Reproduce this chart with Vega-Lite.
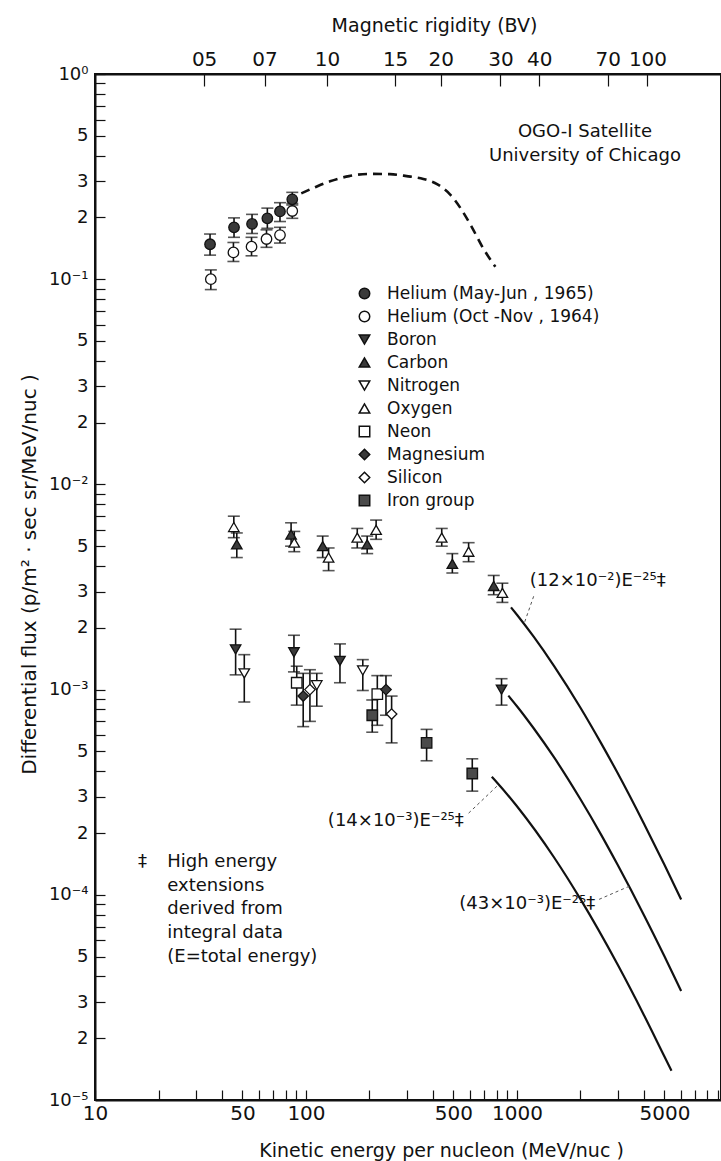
{
  "$schema": "https://vega.github.io/schema/vega-lite/v6.json",
  "width": 626,
  "height": 1026,
  "autosize": "none",
  "padding": {"left": 95, "top": 74, "right": 0, "bottom": 61},
  "background": "white",
  "config": {
    "font": "DejaVu Sans",
    "view": {"stroke": "#111", "strokeWidth": 2},
    "axis": {
      "grid": false,
      "domainColor": "#111",
      "domainWidth": 2,
      "tickColor": "#111",
      "tickWidth": 1.2,
      "labelColor": "#111",
      "titleColor": "#111",
      "labelFont": "DejaVu Sans",
      "titleFont": "DejaVu Sans",
      "titleFontWeight": "normal",
      "labelFontSize": 18,
      "titleFontSize": 18
    },
    "legend": {
      "labelFont": "DejaVu Sans",
      "labelFontSize": 17,
      "labelColor": "#111",
      "labelLimit": 400,
      "symbolSize": 110,
      "rowPadding": 5,
      "labelOffset": 14,
      "padding": 0
    },
    "text": {"font": "DejaVu Sans", "color": "#111", "fontSize": 18}
  },
  "datasets": {
    "points": [
      {"species": "Helium (May-Jun , 1965)", "E": 35.1, "flux": 0.148, "lo": 0.131, "hi": 0.166},
      {"species": "Helium (May-Jun , 1965)", "E": 45.6, "flux": 0.179, "lo": 0.160, "hi": 0.199},
      {"species": "Helium (May-Jun , 1965)", "E": 55.5, "flux": 0.186, "lo": 0.167, "hi": 0.207},
      {"species": "Helium (May-Jun , 1965)", "E": 65.6, "flux": 0.198, "lo": 0.177, "hi": 0.222},
      {"species": "Helium (May-Jun , 1965)", "E": 75.3, "flux": 0.214, "lo": 0.191, "hi": 0.236},
      {"species": "Helium (May-Jun , 1965)", "E": 86.1, "flux": 0.245, "lo": 0.230, "hi": 0.265},
      {"species": "Helium (Oct -Nov , 1964)", "E": 35.4, "flux": 0.100, "lo": 0.089, "hi": 0.111},
      {"species": "Helium (Oct -Nov , 1964)", "E": 45.3, "flux": 0.135, "lo": 0.122, "hi": 0.151},
      {"species": "Helium (Oct -Nov , 1964)", "E": 55.2, "flux": 0.144, "lo": 0.130, "hi": 0.160},
      {"species": "Helium (Oct -Nov , 1964)", "E": 65.0, "flux": 0.157, "lo": 0.143, "hi": 0.174},
      {"species": "Helium (Oct -Nov , 1964)", "E": 75.3, "flux": 0.164, "lo": 0.150, "hi": 0.179},
      {"species": "Helium (Oct -Nov , 1964)", "E": 86.1, "flux": 0.215, "lo": 0.198, "hi": 0.234},
      {"species": "Boron", "E": 46.4, "flux": 0.00157, "lo": 0.00118, "hi": 0.00197},
      {"species": "Boron", "E": 87.7, "flux": 0.00152, "lo": 0.00122, "hi": 0.00184},
      {"species": "Boron", "E": 144.9, "flux": 0.00138, "lo": 0.00108, "hi": 0.00167},
      {"species": "Boron", "E": 845, "flux": 0.00100, "lo": 0.00084, "hi": 0.00113},
      {"species": "Carbon", "E": 47, "flux": 0.0051, "lo": 0.0044, "hi": 0.0058},
      {"species": "Carbon", "E": 85, "flux": 0.0057, "lo": 0.0050, "hi": 0.0065},
      {"species": "Carbon", "E": 120, "flux": 0.0050, "lo": 0.0044, "hi": 0.0056},
      {"species": "Carbon", "E": 195, "flux": 0.0051, "lo": 0.0046, "hi": 0.0056},
      {"species": "Carbon", "E": 494, "flux": 0.0041, "lo": 0.0037, "hi": 0.0046},
      {"species": "Carbon", "E": 776, "flux": 0.0032, "lo": 0.0029, "hi": 0.0036},
      {"species": "Nitrogen", "E": 51.0, "flux": 0.00120, "lo": 0.00087, "hi": 0.00148},
      {"species": "Nitrogen", "E": 112.5, "flux": 0.00105, "lo": 0.00083, "hi": 0.00120},
      {"species": "Nitrogen", "E": 185.9, "flux": 0.00124, "lo": 0.00099, "hi": 0.00140},
      {"species": "Oxygen", "E": 45.5, "flux": 0.0062, "lo": 0.0055, "hi": 0.0070},
      {"species": "Oxygen", "E": 88, "flux": 0.0052, "lo": 0.0047, "hi": 0.0059},
      {"species": "Oxygen", "E": 128, "flux": 0.0044, "lo": 0.0038, "hi": 0.0049},
      {"species": "Oxygen", "E": 175, "flux": 0.0055, "lo": 0.0049, "hi": 0.0061},
      {"species": "Oxygen", "E": 215, "flux": 0.0060, "lo": 0.0054, "hi": 0.0067},
      {"species": "Oxygen", "E": 440, "flux": 0.0055, "lo": 0.0050, "hi": 0.0061},
      {"species": "Oxygen", "E": 590, "flux": 0.0047, "lo": 0.0042, "hi": 0.0052},
      {"species": "Oxygen", "E": 853, "flux": 0.00296, "lo": 0.00266, "hi": 0.0033},
      {"species": "Neon", "E": 90.4, "flux": 0.00108, "lo": 0.00084, "hi": 0.00130},
      {"species": "Neon", "E": 217.8, "flux": 0.00095, "lo": 0.00067, "hi": 0.00117},
      {"species": "Magnesium", "E": 97.0, "flux": 0.00093, "lo": 0.00066, "hi": 0.00120},
      {"species": "Magnesium", "E": 239.4, "flux": 0.00100, "lo": 0.00075, "hi": 0.00117},
      {"species": "Silicon", "E": 104.4, "flux": 0.00100, "lo": 0.00070, "hi": 0.00125},
      {"species": "Silicon", "E": 254.6, "flux": 0.00076, "lo": 0.00055, "hi": 0.00093},
      {"species": "Iron group", "E": 206.1, "flux": 0.00075, "lo": 0.00062, "hi": 0.00089},
      {"species": "Iron group", "E": 373, "flux": 0.00055, "lo": 0.00045, "hi": 0.00064},
      {"species": "Iron group", "E": 614, "flux": 0.00039, "lo": 0.00032, "hi": 0.00046}
    ],
    "heliumCurve": [
      {"E": 95, "flux": 0.262},
      {"E": 110, "flux": 0.28},
      {"E": 130, "flux": 0.30},
      {"E": 160, "flux": 0.318},
      {"E": 200, "flux": 0.326},
      {"E": 250, "flux": 0.325},
      {"E": 300, "flux": 0.318},
      {"E": 360, "flux": 0.308},
      {"E": 420, "flux": 0.29},
      {"E": 480, "flux": 0.26},
      {"E": 540, "flux": 0.222},
      {"E": 610, "flux": 0.18},
      {"E": 690, "flux": 0.142},
      {"E": 790, "flux": 0.115}
    ],
    "extensions": [
      {"curve": "C+O", "E": 937, "flux": 0.002517},
      {"curve": "C+O", "E": 1000, "flux": 0.002316},
      {"curve": "C+O", "E": 1200, "flux": 0.001810},
      {"curve": "C+O", "E": 1500, "flux": 0.001302},
      {"curve": "C+O", "E": 2000, "flux": 0.000816},
      {"curve": "C+O", "E": 2500, "flux": 0.000550},
      {"curve": "C+O", "E": 3000, "flux": 0.000392},
      {"curve": "C+O", "E": 4000, "flux": 0.000222},
      {"curve": "C+O", "E": 5000, "flux": 0.000140},
      {"curve": "C+O", "E": 6000, "flux": 0.0000949},
      {"curve": "LiBeB+N", "E": 910, "flux": 0.000935},
      {"curve": "LiBeB+N", "E": 1000, "flux": 0.000830},
      {"curve": "LiBeB+N", "E": 1200, "flux": 0.000648},
      {"curve": "LiBeB+N", "E": 1500, "flux": 0.000467},
      {"curve": "LiBeB+N", "E": 2000, "flux": 0.000292},
      {"curve": "LiBeB+N", "E": 2500, "flux": 0.000197},
      {"curve": "LiBeB+N", "E": 3000, "flux": 0.000140},
      {"curve": "LiBeB+N", "E": 4000, "flux": 0.0000796},
      {"curve": "LiBeB+N", "E": 5000, "flux": 0.0000502},
      {"curve": "LiBeB+N", "E": 6000, "flux": 0.0000340},
      {"curve": "Fe", "E": 760, "flux": 0.000376},
      {"curve": "Fe", "E": 800, "flux": 0.000355},
      {"curve": "Fe", "E": 1000, "flux": 0.000270},
      {"curve": "Fe", "E": 1500, "flux": 0.000152},
      {"curve": "Fe", "E": 2000, "flux": 0.0000952},
      {"curve": "Fe", "E": 3000, "flux": 0.0000457},
      {"curve": "Fe", "E": 4000, "flux": 0.0000259},
      {"curve": "Fe", "E": 5000, "flux": 0.0000163},
      {"curve": "Fe", "E": 5400, "flux": 0.0000139}
    ],
    "leaders": [
      {"E": 1200, "flux": 0.00285, "E2": 1080, "flux2": 0.00209},
      {"E": 590, "flux": 0.000250, "E2": 820, "flux2": 0.000345},
      {"E": 2450, "flux": 0.0000950, "E2": 3400, "flux2": 0.000110}
    ],
    "notesCenter": [
      {"E": 2100, "flux": 0.52, "text": "OGO-I Satellite"},
      {"E": 2100, "flux": 0.40, "text": "University of Chicago"}
    ],
    "notesLeft": [
      {"E": 1150, "flux": 0.0034, "text": "(12×10⁻²)E⁻²⁵‡"},
      {"E": 16, "flux": 0.000145, "text": "‡"},
      {"E": 22, "flux": 0.000145, "text": "High energy"},
      {"E": 22, "flux": 0.000110, "text": "extensions"},
      {"E": 22, "flux": 0.000085, "text": "derived from"},
      {"E": 22, "flux": 0.000065, "text": "integral data"},
      {"E": 22, "flux": 0.000050, "text": "(E=total energy)"}
    ],
    "notesRight": [
      {"E": 560, "flux": 0.00023, "text": "(14×10⁻³)E⁻²⁵‡"},
      {"E": 2350, "flux": 0.00009, "text": "(43×10⁻³)E⁻²⁵‡"}
    ]
  },
  "resolve": {"axis": {"x": "independent"}},
  "layer": [
    {
      "data": {"name": "extensions"},
      "mark": {"type": "line", "color": "#111", "strokeWidth": 2.2, "interpolate": "monotone"},
      "encoding": {
        "x": {
          "field": "E", "type": "quantitative",
          "scale": {"type": "log", "domain": [10, 9270], "nice": false},
          "axis": {
            "orient": "bottom",
            "values": [10, 20, 30, 40, 50, 60, 70, 80, 90, 100, 200, 300, 400, 500, 600, 700, 800, 900, 1000, 2000, 3000, 4000, 5000, 6000, 7000, 8000, 9000],
            "labelExpr": "indexof([10, 50, 100, 500, 1000, 5000], datum.value) >= 0 ? datum.value + '' : ''",
            "tickSize": -10,
            "labelPadding": 13,
            "labelFontSize": 20,
            "labelFlush": false,
            "labelOverlap": false,
            "title": "Kinetic  energy  per  nucleon  (MeV/nuc )",
            "titleFontSize": 19,
            "titleX": 346,
            "titleY": 50,
            "titleBaseline": "middle"
          }
        },
        "y": {
          "field": "flux", "type": "quantitative",
          "title": "Differential  flux  (p/m² · sec sr/MeV/nuc )",
          "scale": {"type": "log", "domain": [0.00001, 1], "nice": false},
          "axis": {
            "values": [0.00001, 0.00002, 0.00003, 0.00004, 0.00005, 0.00006, 0.00007, 0.00008, 0.00009, 0.0001, 0.0002, 0.0003, 0.0004, 0.0005, 0.0006, 0.0007, 0.0008, 0.0009, 0.001, 0.002, 0.003, 0.004, 0.005, 0.006, 0.007, 0.008, 0.009, 0.01, 0.02, 0.03, 0.04, 0.05, 0.06, 0.07, 0.08, 0.09, 0.1, 0.2, 0.3, 0.4, 0.5, 0.6, 0.7, 0.8, 0.9, 1],
            "labelExpr": "datum.value == 1 ? '10⁰' : datum.value == 0.1 ? '10⁻¹' : datum.value == 0.01 ? '10⁻²' : datum.value == 0.001 ? '10⁻³' : datum.value == 0.0001 ? '10⁻⁴' : datum.value == 0.00001 ? '10⁻⁵' : indexof([2, 3, 5], round(datum.value / pow(10, floor(log(datum.value) / LN10 + 1e-9)))) >= 0 ? round(datum.value / pow(10, floor(log(datum.value) / LN10 + 1e-9))) + '' : ''",
            "tickSize": -10,
            "labelPadding": 17,
            "labelFontSize": 18,
            "labelFlush": false,
            "labelOverlap": false,
            "titleFontSize": 20,
            "titleX": -66,
            "titleY": 500,
            "titleBaseline": "middle"
          }
        },
        "detail": {"field": "curve"}
      }
    },
    {
      "data": {"name": "heliumCurve"},
      "mark": {"type": "line", "color": "#111", "strokeWidth": 2.6, "strokeDash": [9, 6], "interpolate": "monotone"},
      "encoding": {
        "x": {
          "field": "E", "type": "quantitative",
          "scale": {"type": "log", "domain": [10, 9270], "nice": false},
          "axis": {
            "orient": "top",
            "values": [32.9, 63.6, 125.8, 264.5, 435.3, 834.4, 1275, 2690.7, 4155],
            "labelExpr": "datum.value < 40 ? '05' : datum.value < 70 ? '07' : datum.value < 130 ? '10' : datum.value < 300 ? '15' : datum.value < 500 ? '20' : datum.value < 900 ? '30' : datum.value < 1500 ? '40' : datum.value < 3000 ? '70' : '100'",
            "tickSize": -12,
            "labelPadding": 17,
            "labelFontSize": 20,
            "labelOverlap": false,
            "title": "Magnetic  rigidity  (BV)",
            "titleFontSize": 19,
            "titleX": 339,
            "titleY": -49,
            "titleBaseline": "middle"
          }
        },
        "y": {"field": "flux", "type": "quantitative", "title": "Differential  flux  (p/m² · sec sr/MeV/nuc )", "scale": {"type": "log", "domain": [0.00001, 1], "nice": false}}
      }
    },
    {
      "data": {"name": "points"},
      "mark": {"type": "errorbar", "ticks": {"size": 12, "thickness": 1.6}, "rule": {"strokeWidth": 1.6}, "color": "#111"},
      "encoding": {
        "x": {"field": "E", "type": "quantitative", "scale": {"type": "log", "domain": [10, 9270], "nice": false}, "axis": null},
        "y": {"field": "lo", "type": "quantitative", "title": "Differential  flux  (p/m² · sec sr/MeV/nuc )", "scale": {"type": "log", "domain": [0.00001, 1], "nice": false}},
        "y2": {"field": "hi"}
      }
    },
    {
      "data": {"name": "points"},
      "mark": {"type": "point", "filled": false, "opacity": 1, "stroke": "#111", "strokeWidth": 1.3, "size": 110},
      "encoding": {
        "x": {"field": "E", "type": "quantitative", "scale": {"type": "log", "domain": [10, 9270], "nice": false}, "axis": null},
        "y": {"field": "flux", "type": "quantitative", "title": "Differential  flux  (p/m² · sec sr/MeV/nuc )", "scale": {"type": "log", "domain": [0.00001, 1], "nice": false}},
        "shape": {
          "field": "species", "type": "nominal",
          "scale": {
            "domain": ["Helium (May-Jun , 1965)", "Helium (Oct -Nov , 1964)", "Boron", "Carbon", "Nitrogen", "Oxygen", "Neon", "Magnesium", "Silicon", "Iron group"],
            "range": ["circle", "circle", "triangle-down", "triangle-up", "triangle-down", "triangle-up", "square", "diamond", "diamond", "square"]
          },
          "legend": {
            "orient": "none", "legendX": 261, "legendY": 211, "title": null,
            "encode": {"symbols": {"update": {"stroke": {"value": "#111"}, "strokeWidth": {"value": 1.3}}}}
          }
        },
        "fill": {
          "field": "species", "type": "nominal",
          "scale": {
            "domain": ["Helium (May-Jun , 1965)", "Helium (Oct -Nov , 1964)", "Boron", "Carbon", "Nitrogen", "Oxygen", "Neon", "Magnesium", "Silicon", "Iron group"],
            "range": ["#3a3a3a", "#ffffff", "#3a3a3a", "#3a3a3a", "#ffffff", "#ffffff", "#ffffff", "#3a3a3a", "#ffffff", "#4a4a4a"]
          },
          "legend": {
            "orient": "none", "legendX": 261, "legendY": 211, "title": null,
            "encode": {"symbols": {"update": {"stroke": {"value": "#111"}, "strokeWidth": {"value": 1.3}}}}
          }
        }
      }
    },
    {
      "data": {"name": "leaders"},
      "mark": {"type": "rule", "color": "#555", "strokeWidth": 1, "strokeDash": [3, 3]},
      "encoding": {
        "x": {"field": "E", "type": "quantitative", "scale": {"type": "log", "domain": [10, 9270], "nice": false}, "axis": null},
        "y": {"field": "flux", "type": "quantitative", "title": "Differential  flux  (p/m² · sec sr/MeV/nuc )", "scale": {"type": "log", "domain": [0.00001, 1], "nice": false}},
        "x2": {"field": "E2"},
        "y2": {"field": "flux2"}
      }
    },
    {
      "data": {"name": "notesCenter"},
      "mark": {"type": "text", "align": "center", "baseline": "middle", "fontSize": 18},
      "encoding": {
        "x": {"field": "E", "type": "quantitative", "scale": {"type": "log", "domain": [10, 9270], "nice": false}, "axis": null},
        "y": {"field": "flux", "type": "quantitative", "title": "Differential  flux  (p/m² · sec sr/MeV/nuc )", "scale": {"type": "log", "domain": [0.00001, 1], "nice": false}},
        "text": {"field": "text"}
      }
    },
    {
      "data": {"name": "notesLeft"},
      "mark": {"type": "text", "align": "left", "baseline": "middle", "fontSize": 18},
      "encoding": {
        "x": {"field": "E", "type": "quantitative", "scale": {"type": "log", "domain": [10, 9270], "nice": false}, "axis": null},
        "y": {"field": "flux", "type": "quantitative", "title": "Differential  flux  (p/m² · sec sr/MeV/nuc )", "scale": {"type": "log", "domain": [0.00001, 1], "nice": false}},
        "text": {"field": "text"}
      }
    },
    {
      "data": {"name": "notesRight"},
      "mark": {"type": "text", "align": "right", "baseline": "middle", "fontSize": 18},
      "encoding": {
        "x": {"field": "E", "type": "quantitative", "scale": {"type": "log", "domain": [10, 9270], "nice": false}, "axis": null},
        "y": {"field": "flux", "type": "quantitative", "title": "Differential  flux  (p/m² · sec sr/MeV/nuc )", "scale": {"type": "log", "domain": [0.00001, 1], "nice": false}},
        "text": {"field": "text"}
      }
    }
  ]
}
